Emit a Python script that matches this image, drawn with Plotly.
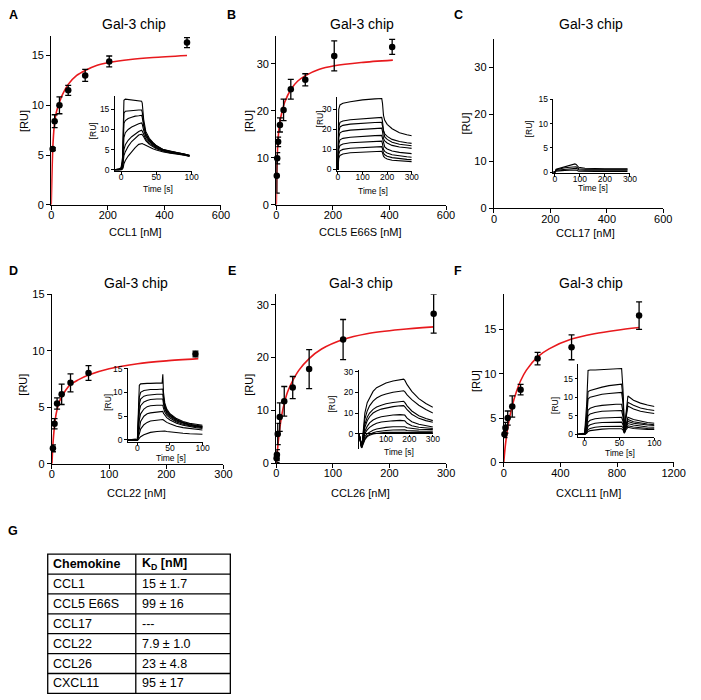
import plotly.graph_objects as go

W, H = 701, 700
FONT = "Arial, Liberation Sans, sans-serif"

# ---------------- binding data (main panels) ----------------
A_X = [5, 12, 29, 60, 120, 205, 480]
A_Y = [5.6, 8.4, 10.0, 11.5, 13.0, 14.4, 16.3]
A_ERR = [0.15, 0.65, 0.85, 0.5, 0.6, 0.55, 0.5]
A_FIT_X = [0, 2, 5, 8, 12, 18, 29, 40, 60, 90, 120, 160, 205, 280, 360, 480]
A_FIT_Y = [0, 2.5, 5.4, 7.0, 8.3, 9.3, 10.3, 11.1, 12.1, 13.0, 13.5, 14.0, 14.3, 14.6, 14.8, 15.0]

B_X = [1.6, 3.2, 6.4, 12.8, 25.6, 51.2, 102.4, 204.8, 409.6]
B_Y = [6.2, 9.9, 13.4, 17.0, 20.2, 24.6, 26.6, 31.7, 33.6]
B_ERR = [3.7, 1.2, 1.0, 1.5, 2.3, 2.1, 1.3, 3.2, 1.6]
B_FIT_X = [0, 1, 2.5, 5, 8, 12, 20, 30, 52, 75, 103, 150, 205, 300, 412]
B_FIT_Y = [0, 4.5, 9.0, 12.8, 15.3, 17.4, 19.8, 21.9, 24.6, 26.3, 27.5, 28.8, 29.6, 30.3, 30.8]

D_X = [1.7, 4.6, 9, 17, 32.5, 64, 251]
D_Y = [1.36, 3.54, 5.33, 6.14, 7.16, 8.03, 9.71]
D_ERR = [0.3, 0.45, 0.5, 0.9, 0.8, 0.65, 0.25]
D_FIT_X = [0, 1, 2, 4, 6, 9, 13, 17, 24, 32, 45, 64, 100, 150, 200, 256]
D_FIT_Y = [0, 1.0, 1.9, 3.1, 4.0, 4.8, 5.5, 5.9, 6.5, 7.0, 7.4, 7.85, 8.4, 8.85, 9.1, 9.3]

E_X = [0.5, 1, 2.5, 6, 14, 29, 58, 118, 278]
E_Y = [0.9, 1.55, 5.5, 8.7, 11.7, 14.3, 17.8, 23.4, 28.3]
E_ERR = [0.8, 1.0, 2.0, 2.7, 2.8, 2.1, 3.7, 3.8, 3.7]
E_FIT_X = [0, 1, 2.5, 6, 10, 14, 20, 29, 40, 58, 80, 118, 160, 220, 278]
E_FIT_Y = [0, 1.2, 3.0, 6.5, 9.3, 11.3, 13.5, 15.6, 17.6, 19.8, 21.6, 23.4, 24.5, 25.3, 25.8]

F_X = [5, 12, 28, 60, 119, 239, 479, 956]
F_Y = [3.18, 3.9, 4.99, 6.3, 8.2, 11.7, 12.97, 16.55]
F_ERR = [0.4, 0.6, 0.8, 1.2, 0.6, 0.7, 1.4, 1.55]
F_FIT_X = [0, 5, 12, 28, 60, 90, 119, 160, 239, 320, 479, 640, 800, 956]
F_FIT_Y = [0, 0.9, 2.0, 3.9, 6.4, 8.0, 9.2, 10.4, 11.9, 12.8, 13.9, 14.5, 14.9, 15.2]

# ---------------- sensorgrams (insets) ----------------
A_T = [-9, -3, 0, 2, 3, 4, 6, 10, 15, 20, 25, 29, 30, 32, 35, 40, 45, 50, 60, 70, 80, 90, 97]
A_S1 = [0, 0.2, 0.5, 3, 10, 17.2, 17.5, 17.4, 17.3, 17.2, 17.1, 17.0, 16.5, 12.5, 9.5, 7.8, 6.8, 6.0, 5.0, 4.6, 4.3, 3.9, 3.6]
A_S2 = [0, 0.2, 0.4, 2, 8, 14.0, 14.5, 14.6, 14.7, 14.8, 14.8, 14.8, 14.3, 11.5, 9.0, 7.5, 6.6, 5.9, 5.0, 4.5, 4.2, 3.9, 3.6]
A_S3 = [0, 0, 0.3, 1.5, 6, 11.5, 12.2, 12.7, 13.0, 13.3, 13.4, 13.5, 13.0, 10.8, 8.7, 7.3, 6.4, 5.8, 4.9, 4.5, 4.2, 3.9, 3.5]
A_S4 = [0, 0, 0.2, 1, 4, 8, 9.2, 10.0, 10.6, 11.1, 11.4, 11.6, 11.3, 9.8, 8.2, 7.0, 6.2, 5.6, 4.8, 4.4, 4.1, 3.8, 3.5]
A_S5 = [0, 0, 0.1, 0.6, 2.5, 5, 6.2, 7.3, 8.2, 8.9, 9.5, 9.8, 9.6, 8.8, 7.6, 6.6, 5.9, 5.4, 4.7, 4.3, 4.0, 3.7, 3.4]
A_S6 = [0, 0, 0, 0.4, 1.5, 3.5, 4.5, 5.8, 7.0, 7.9, 8.6, 8.8, 8.7, 8.2, 7.2, 6.3, 5.7, 5.2, 4.6, 4.2, 4.0, 3.7, 3.4]
A_S7 = [0, 0, 0, 0.2, 0.6, 1.5, 2.3, 3.4, 4.5, 5.5, 6.3, 6.5, 6.5, 6.3, 6.0, 5.6, 5.2, 4.9, 4.4, 4.1, 3.9, 3.6, 3.3]

B_T = [-5, 0, 1, 3, 8, 20, 50, 100, 150, 178, 181, 185, 190, 200, 220, 250, 280, 300]
B_S1 = [0, 0, 15, 30, 32.2, 33, 33.8, 34.7, 35.2, 35.4, 33, 27, 24.5, 22.5, 20.3, 18.3, 17.3, 16.8]
B_S2 = [0, 0, 10, 21, 23.5, 24.2, 24.8, 25.4, 25.8, 26.0, 24, 19.5, 17.8, 16.5, 15.0, 13.9, 13.3, 13.0]
B_S3 = [0, 0, 8, 18.5, 21.2, 22, 22.6, 23.1, 23.4, 23.5, 21.8, 17.8, 16.2, 15.0, 13.6, 12.6, 12.1, 11.8]
B_S4 = [0, 0, 7, 16, 18.3, 19.0, 19.6, 20.1, 20.4, 20.6, 19, 15.5, 14.2, 13.2, 12.0, 11.2, 10.8, 10.5]
B_S5 = [0, 0, 5, 12.5, 14.8, 15.5, 16.1, 16.6, 16.9, 17.0, 15.6, 12.3, 11.2, 10.2, 9.2, 8.5, 8.1, 7.9]
B_S6 = [0, 0, 4, 10, 12.0, 12.7, 13.3, 13.7, 14.0, 14.1, 12.8, 10.0, 9.0, 8.2, 7.3, 6.7, 6.3, 6.1]
B_S7 = [0, 0, 3, 7.5, 9.3, 10.0, 10.6, 11.0, 11.3, 11.4, 10.3, 8.2, 7.3, 6.6, 5.9, 5.3, 5.0, 4.9]
B_S8 = [0, 0, 2, 5.5, 7.0, 7.7, 8.3, 8.7, 9.0, 9.1, 8.3, 6.6, 5.9, 5.2, 4.6, 4.2, 4.0, 3.9]

C_T = [-6, 0, 5, 20, 40, 60, 80, 85, 95, 120, 160, 200, 250, 290]
C_S1 = [0, 0, 0.6, 0.8, 1.1, 1.4, 1.7, 1.6, 1.0, 0.8, 0.7, 0.7, 0.7, 0.7]
C_S2 = [0, 0, 0.5, 0.7, 0.9, 1.0, 1.2, 1.1, 0.7, 0.6, 0.6, 0.6, 0.6, 0.6]
C_S3 = [0, 0, 0.4, 0.5, 0.6, 0.7, 0.8, 0.8, 0.5, 0.4, 0.4, 0.4, 0.4, 0.4]
C_S4 = [0, 0, 0.2, 0.3, 0.35, 0.4, 0.45, 0.45, 0.2, 0.15, 0.15, 0.15, 0.15, 0.15]

D_T = [-15, -3, 0, 1, 3, 5, 10, 15, 20, 30, 38, 39, 40, 42, 45, 50, 60, 70, 80, 90, 100]
D_S1 = [0, 0.2, 0, 6, 11.5, 11.8, 11.9, 11.9, 11.9, 11.9, 12.0, 13.8, 10.0, 7.8, 6.5, 5.5, 4.5, 3.9, 3.5, 3.3, 3.1]
D_S2 = [0, 0, 0, 3, 9.0, 10.0, 10.4, 10.5, 10.6, 10.6, 10.7, 10.7, 9.0, 7.3, 6.2, 5.3, 4.3, 3.7, 3.3, 3.1, 2.9]
D_S3 = [0, 0, 0, 2, 7.5, 8.6, 9.2, 9.4, 9.5, 9.6, 9.6, 9.6, 8.3, 6.9, 5.9, 5.1, 4.2, 3.6, 3.2, 3.0, 2.8]
D_S4 = [0, 0, 0, 1.5, 6.0, 7.2, 8.0, 8.3, 8.5, 8.6, 8.6, 8.6, 7.6, 6.5, 5.6, 4.9, 4.0, 3.5, 3.1, 2.9, 2.7]
D_S5 = [0, 0, 0, 1, 4.2, 5.5, 6.5, 7.0, 7.2, 7.3, 7.3, 7.3, 6.7, 5.9, 5.2, 4.6, 3.8, 3.3, 3.0, 2.8, 2.6]
D_S6 = [0, 0, 0, 0.6, 2.8, 3.9, 5.0, 5.5, 5.7, 5.9, 6.0, 6.0, 5.6, 5.2, 4.7, 4.2, 3.5, 3.1, 2.8, 2.6, 2.4]
D_S7 = [0, 0, 0, 0.3, 1.5, 2.3, 3.2, 3.7, 4.0, 4.2, 4.3, 4.3, 4.2, 4.0, 3.7, 3.4, 2.9, 2.6, 2.4, 2.2, 2.1]
D_S8 = [0, 0, 0, 0, 0.4, 0.7, 1.1, 1.4, 1.6, 1.8, 1.9, 2.0, 2.0, 1.9, 1.8, 1.7, 1.5, 1.4, 1.3, 1.2, 1.2]

E_T = [-15, -8, -4, 0, 5, 10, 20, 30, 45, 60, 80, 100, 130, 160, 175, 180, 190, 210, 240, 270, 300]
E_S1 = [0, -4, -6, -3, 5, 10, 15, 17.5, 20.5, 22.3, 23.6, 24.6, 25.6, 26.3, 26.5, 26.0, 23.8, 20.5, 17.0, 14.6, 12.8]
E_S2 = [0, -4, -6, -3, 3, 7, 11, 13.5, 15.8, 17.3, 18.5, 19.3, 20.1, 20.6, 20.8, 20.4, 18.8, 16.5, 13.8, 11.7, 10.0]
E_S3 = [0, -4, -6, -3.5, 1.5, 4.5, 8, 10, 11.8, 12.9, 13.8, 14.5, 15.1, 15.5, 15.7, 15.2, 13.5, 11.0, 8.7, 7.3, 6.3]
E_S4 = [0, -4, -6, -4, 0.5, 3, 6.2, 8.2, 10.0, 11.0, 11.9, 12.5, 13.1, 13.5, 13.6, 13.1, 11.6, 9.4, 7.4, 6.3, 5.5]
E_S5 = [0, -4, -6.5, -4.5, -1, 1, 3.5, 5.2, 6.6, 7.5, 8.2, 8.6, 9.0, 9.2, 9.3, 9.0, 7.5, 5.8, 4.5, 3.7, 3.2]
E_S6 = [0, -4, -6.5, -5, -2, 0, 1.8, 3.0, 4.2, 5.0, 5.6, 5.9, 6.2, 6.4, 6.4, 6.2, 5.0, 3.8, 3.1, 2.7, 2.5]
E_S7 = [0, -4, -7, -5, -3, -1.5, 0, 0.8, 1.6, 2.2, 2.7, 3.0, 3.3, 3.4, 3.5, 3.3, 2.8, 2.4, 2.1, 2.0, 1.9]
E_S8 = [0, -4, -7, -5.5, -3.5, -2.5, -1, -0.3, 0.4, 0.9, 1.3, 1.5, 1.7, 1.8, 1.9, 1.8, 1.5, 1.3, 1.2, 1.1, 1.1]
E_S9 = [0, -4, -7, -6, -4, -3, -1.5, -0.8, -0.2, 0.2, 0.4, 0.6, 0.7, 0.8, 0.8, 0.8, 0.7, 0.6, 0.5, 0.5, 0.5]

F_T = [-9, -2, 0, 3, 5, 8, 15, 25, 35, 45, 53, 55, 57, 59, 62, 70, 80, 90, 100]
F_S1 = [0, 0.3, 0, 8, 17.2, 17.3, 17.3, 17.4, 17.5, 17.6, 17.7, 12.0, 1.5, 5.0, 10.3, 9.2, 8.4, 7.9, 7.5]
F_S2 = [0, 0, 0, 5, 11.5, 11.8, 12.2, 12.7, 13.1, 13.4, 13.5, 10.0, 1.2, 4.5, 8.6, 7.8, 7.1, 6.7, 6.4]
F_S3 = [0, 0, 0, 4, 9.5, 10.0, 10.4, 10.8, 11.0, 11.2, 11.3, 8.5, 1.0, 4.0, 7.6, 6.8, 6.2, 5.9, 5.6]
F_S4 = [0, 0, 0, 2.5, 6.5, 7.0, 7.5, 7.8, 8.0, 8.1, 8.1, 6.0, 0.8, 2.5, 4.6, 4.0, 3.5, 3.2, 3.0]
F_S5 = [0, 0, 0, 2, 5.0, 5.5, 5.9, 6.2, 6.3, 6.4, 6.4, 4.8, 0.7, 2.2, 4.0, 3.4, 3.0, 2.8, 2.6]
F_S6 = [0, 0, 0, 1.3, 3.3, 3.8, 4.2, 4.4, 4.5, 4.6, 4.6, 3.5, 0.6, 2.0, 3.5, 3.0, 2.7, 2.5, 2.4]
F_S7 = [0, 0, 0, 0.8, 2.2, 2.6, 3.0, 3.2, 3.3, 3.3, 3.3, 2.6, 0.5, 1.8, 2.9, 2.5, 2.2, 2.0, 1.9]
F_S8 = [0, 0, 0, 0.5, 1.3, 1.6, 1.9, 2.1, 2.2, 2.2, 2.2, 1.8, 0.4, 1.5, 2.3, 2.0, 1.7, 1.6, 1.5]
F_S9 = [0, 0, 0, 0.3, 0.8, 1.0, 1.2, 1.4, 1.5, 1.5, 1.5, 1.2, 0.3, 1.2, 1.9, 1.6, 1.4, 1.3, 1.3]

# ---------------- table ----------------
TABLE_HEAD = ["<b>Chemokine</b>", "<b>K<sub>D</sub> [nM]</b>"]
CHEMOKINES = ["CCL1", "CCL5 E66S", "CCL17", "CCL22", "CCL26", "CXCL11"]
KD_VALUES = ["15 ± 1.7", "99 ± 16", "---", "7.9 ± 1.0", "23 ± 4.8", "95 ± 17"]

X_LABELS = ["CCL1 [nM]", "CCL5 E66S [nM]", "CCL17 [nM]", "CCL22 [nM]", "CCL26 [nM]", "CXCL11 [nM]"]
PANEL_LETTERS = ["A", "B", "C", "D", "E", "F"]
TITLE = "Gal-3 chip"


def xdom(a, b):
    return [a / W, b / W]


def ydom(top, bottom):
    return [1 - bottom / H, 1 - top / H]


fig = go.Figure()
layout = {}


def axis_style(main=True):
    if main:
        return dict(showline=True, linecolor="black", linewidth=1.3, ticks="outside",
                    ticklen=4, tickwidth=1.3, tickcolor="black", showgrid=False,
                    zeroline=False, tickfont=dict(family=FONT, size=11, color="black"))
    return dict(showline=True, linecolor="black", linewidth=1, ticks="outside",
                ticklen=2.5, tickwidth=1, tickcolor="black", showgrid=False,
                zeroline=False, tickfont=dict(family=FONT, size=8.5, color="black"))


def set_axes(n, xd, yd, xr, yr, xt, yt, main=True, xextra=None, yextra=None):
    k = "" if n == 1 else str(n)
    xa = axis_style(main)
    xa.update(domain=xd, range=xr, tickvals=xt, anchor="y" + k, fixedrange=True,
              ticklabelstandoff=-4 if main else -5)
    ya = axis_style(main)
    ya.update(domain=yd, range=yr, tickvals=yt, anchor="x" + k, fixedrange=True)
    if xextra:
        xa.update(xextra)
    if yextra:
        ya.update(yextra)
    layout["xaxis" + k] = xa
    layout["yaxis" + k] = ya


# main panels
set_axes(1, xdom(49.3, 222.7), ydom(30.1, 202.3), [0, 600], [0, 17], [0, 200, 400, 600], [0, 5, 10, 15])
set_axes(2, xdom(279.3, 452.7), ydom(30.2, 202.3), [0, 600], [0, 36], [0, 200, 400, 600], [0, 10, 20, 30])
set_axes(3, xdom(501.7, 674.7), ydom(33.6, 205.7), [0, 600], [0, 36], [0, 200, 400, 600], [0, 10, 20, 30])
set_axes(4, xdom(50.0, 225.3), ydom(293.3, 465.7), [0, 300], [0, 15], [0, 100, 200, 300], [0, 5, 10, 15])
set_axes(5, xdom(279.3, 452.8), ydom(293.2, 465.0), [0, 300], [0, 32], [0, 100, 200, 300], [0, 10, 20, 30])
set_axes(6, xdom(511.7, 685.3), ydom(292.9, 464.3), [0, 1200], [0, 19], [0, 400, 800, 1200], [0, 5, 10, 15])

# insets
set_axes(7, xdom(114, 192.7), ydom(91.7, 168.3), [-9.3, 100], [-0.4, 18.25], [0, 50, 100], [0, 5, 10, 15], main=False)
set_axes(8, xdom(341, 417.7), ydom(92.3, 167.7), [-5.2, 300], [-0.7, 36.3], [0, 100, 200, 300], [0, 10, 20, 30], main=False)
set_axes(9, xdom(562.3, 640.7), ydom(94.3, 170), [-6.5, 300], [-0.2, 15.15], [0, 100, 200, 300], [0, 5, 10, 15], main=False)
set_axes(10, xdom(127.3, 204), ydom(368.3, 443.5), [-15, 100], [-0.4, 15.13], [0, 50, 100], [0, 5, 10, 15], main=False)
set_axes(11, xdom(363.3, 439.3), ydom(370, 450.7), [-17, 300], [-7.5, 31.1], [100, 200, 300], [0, 10, 20, 30], main=False,
         xextra=dict(anchor="free", position=1 - 435.5 / H, showline=False, ticklen=2),
         yextra=dict(zeroline=True, zerolinecolor="black", zerolinewidth=1))
set_axes(12, xdom(587.7, 665.7), ydom(364.3, 438.5), [-9.2, 100], [-0.7, 18.9], [0, 50, 100], [0, 5, 10, 15], main=False)

# empty panel C still needs a trace so that its axes are drawn
fig.add_trace(go.Scatter(x=[None], y=[None], mode="lines", xaxis="x3", yaxis="y3", showlegend=False, hoverinfo="skip"))

# binding points + fits
MAIN_SETS = [
    (1, A_X, A_Y, A_ERR, A_FIT_X, A_FIT_Y),
    (2, B_X, B_Y, B_ERR, B_FIT_X, B_FIT_Y),
    (4, D_X, D_Y, D_ERR, D_FIT_X, D_FIT_Y),
    (5, E_X, E_Y, E_ERR, E_FIT_X, E_FIT_Y),
    (6, F_X, F_Y, F_ERR, F_FIT_X, F_FIT_Y),
]
for n, x, y, e, fx, fy in MAIN_SETS:
    k = "" if n == 1 else str(n)
    fig.add_trace(go.Scatter(x=fx, y=fy, mode="lines", line=dict(color="#e8191d", width=1.6, shape="spline", smoothing=0.8),
                             xaxis="x" + k, yaxis="y" + k, showlegend=False, hoverinfo="skip", cliponaxis=False))
    fig.add_trace(go.Scatter(x=x, y=y, mode="markers", marker=dict(color="black", size=6.5, symbol="circle"),
                             error_y=dict(type="data", array=e, visible=True, color="black", thickness=1.3, width=3),
                             xaxis="x" + k, yaxis="y" + k, showlegend=False, hoverinfo="skip", cliponaxis=False))

# sensorgrams
INSETS = [
    (7, A_T, [A_S1, A_S2, A_S3, A_S4, A_S5, A_S6, A_S7]),
    (8, B_T, [B_S1, B_S2, B_S3, B_S4, B_S5, B_S6, B_S7, B_S8]),
    (9, C_T, [C_S1, C_S2, C_S3, C_S4]),
    (10, D_T, [D_S1, D_S2, D_S3, D_S4, D_S5, D_S6, D_S7, D_S8]),
    (11, E_T, [E_S1, E_S2, E_S3, E_S4, E_S5, E_S6, E_S7, E_S8, E_S9]),
    (12, F_T, [F_S1, F_S2, F_S3, F_S4, F_S5, F_S6, F_S7, F_S8, F_S9]),
]
for n, t, curves in INSETS:
    for c in curves:
        fig.add_trace(go.Scatter(x=t, y=c, mode="lines", line=dict(color="black", width=1.1),
                                 xaxis="x" + str(n), yaxis="y" + str(n), showlegend=False, hoverinfo="skip"))

annotations = []


def ann(text, x, y, size, bold=False, angle=0, xanchor="center"):
    annotations.append(dict(text=("<b>%s</b>" % text) if bold else text, x=x / W, y=1 - y / H,
                            xref="paper", yref="paper", showarrow=False, xanchor=xanchor, yanchor="middle",
                            textangle=angle, font=dict(family=FONT, size=size, color="black")))


# panel letters
LETTER_POS = [(10.5, 9), (234, 9), (465, 9), (10.5, 270), (234, 270), (465, 270)]
for L, (lx, ly) in zip(PANEL_LETTERS, LETTER_POS):
    ann(L, lx, ly, 12.5, bold=True)
ann("G", 10.5, 534, 12.5, bold=True)

# titles
TITLE_POS = [(133.8, 18), (366.7, 18), (601, 18), (135.5, 281.7), (365.5, 281.7), (600.5, 281.7)]
for tx, ty in TITLE_POS:
    ann(TITLE, tx, ty, 14)

# main axis titles
XT_POS = [(135.5, 230), (365, 230), (595, 231), (136.7, 495), (365, 495), (598, 495)]
for lab, (tx, ty) in zip(X_LABELS, XT_POS):
    ann(lab, tx, ty, 11)
YT_POS = [(20.7, 116.7), (250.7, 116.7), (472.7, 120), (20.7, 385), (251.7, 385), (483.3, 381.7)]
for tx, ty in YT_POS:
    ann("[RU]", tx, ty, 11, angle=-90)

# inset axis titles
INSET_Y_POS = [(91.7, 126.7), (324.3, 115), (537, 125), (107.7, 403.3), (336.7, 405), (564.3, 406.7)]
for tx, ty in INSET_Y_POS:
    ann("[RU]", tx, ty, 8.5, angle=-90)
INSET_X_POS = [(158.3, 186), (378.3, 188.3), (603, 185), (171.7, 459.8), (405, 453.3), (630, 455)]
for tx, ty in INSET_X_POS:
    ann("Time [s]", tx, ty, 8.5)

# table
T_LEFT, T_RIGHT, T_SPLIT, T_TOP, ROW_H = 45.7, 232.3, 135.7, 557.7, 20.24
n_rows = len(CHEMOKINES) + 1
shapes = []
T_BOTTOM = T_TOP + n_rows * ROW_H
shapes.append(dict(type="rect", xref="paper", yref="paper", x0=T_LEFT / W, x1=T_RIGHT / W,
                   y0=1 - T_BOTTOM / H, y1=1 - T_TOP / H, line=dict(color="black", width=1.3)))
shapes.append(dict(type="line", xref="paper", yref="paper", x0=T_SPLIT / W, x1=T_SPLIT / W,
                   y0=1 - T_BOTTOM / H, y1=1 - T_TOP / H, line=dict(color="black", width=1.3)))
for i in range(1, n_rows):
    yy = T_TOP + i * ROW_H
    shapes.append(dict(type="line", xref="paper", yref="paper", x0=T_LEFT / W, x1=T_RIGHT / W,
                       y0=1 - yy / H, y1=1 - yy / H, line=dict(color="black", width=1.3)))
rows = [TABLE_HEAD] + [[c, k] for c, k in zip(CHEMOKINES, KD_VALUES)]
for i, (c1, c2) in enumerate(rows):
    yc = T_TOP + (i + 0.5) * ROW_H
    ann(c1, T_LEFT + 3.8, yc, 12.5, xanchor="left")
    ann(c2, T_SPLIT + 3.8, yc, 12.5, xanchor="left")

layout.update(dict(width=W, height=H, autosize=False, margin=dict(l=0, r=0, t=0, b=0, pad=0),
                   paper_bgcolor="white", plot_bgcolor="rgba(0,0,0,0)", showlegend=False,
                   annotations=annotations, shapes=shapes, font=dict(family=FONT, color="black")))
fig.update_layout(**layout)
fig.write_html("out.html", config={"displayModeBar": False},
               post_script="document.body.style.margin='0';document.body.style.overflow='hidden';")
